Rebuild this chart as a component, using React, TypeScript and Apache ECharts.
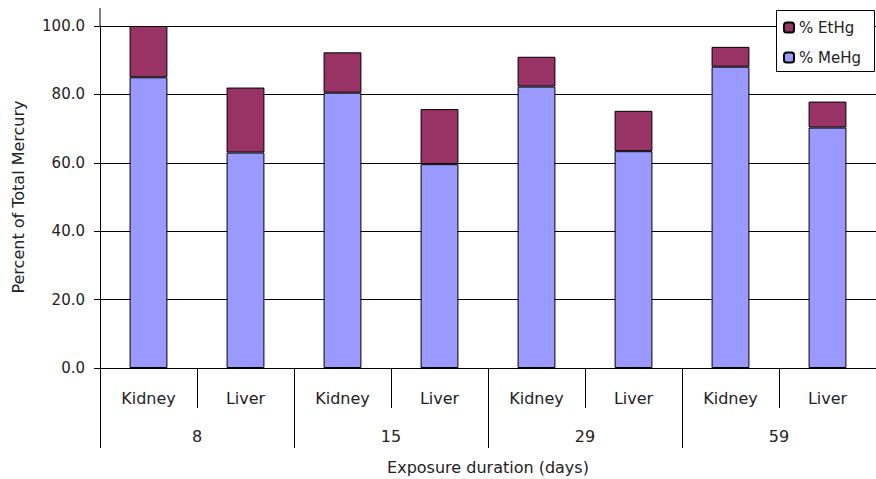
import React, { useEffect, useRef } from "react";
import * as echarts from "echarts";

const categories = ["Kidney", "Liver", "Kidney", "Liver", "Kidney", "Liver", "Kidney", "Liver"];
const groups = ["8", "15", "29", "59"];
const meHg = [85.0, 63.0, 80.5, 59.6, 82.3, 63.4, 88.1, 70.3];
const etHg = [15.0, 19.0, 11.8, 16.1, 8.7, 11.8, 5.8, 7.6];
const yTicks = [0, 20, 40, 60, 80, 100];

const FONT = "DejaVu Sans";

export default function App() {
  const ref = useRef<HTMLDivElement>(null);
  useEffect(() => {
    if (!ref.current) return;
    const chart = echarts.init(ref.current, null, { renderer: "svg" });
    chart.setOption({
      animation: false,
      backgroundColor: "#ffffff",
      textStyle: { fontFamily: FONT },
      grid: {
        left: 100,
        right: 0,
        top: 26,
        bottom: 111,
        containLabel: false,
        outerBoundsMode: "none",
      },
      legend: {
        orient: "vertical",
        left: 776,
        top: 10,
        z: 20,
        data: ["% EtHg", "% MeHg"],
        itemWidth: 10,
        itemHeight: 10,
        itemGap: 15,
        padding: [10, 0, 7, 7],
        borderWidth: 0,
        textStyle: { fontFamily: FONT, fontSize: 15, color: "#222" },
      },
      graphic: [
        {
          type: "line",
          shape: { x1: 100, y1: 8, x2: 100, y2: 26 },
          style: { stroke: "#000", lineWidth: 1 },
        },
        {
          type: "rect",
          z: 10,
          shape: { x: 776.5, y: 10.5, width: 98, height: 61 },
          style: { fill: "#fff", stroke: "#000", lineWidth: 1 },
        },
      ],
      xAxis: [
        {
          type: "category",
          data: categories,
          position: "bottom",
          offset: 0,
          axisLine: { lineStyle: { color: "#000", width: 1 } },
          axisTick: { show: true, length: 40, lineStyle: { color: "#000" } },
          axisLabel: { margin: 22, fontSize: 16, color: "#222", fontFamily: FONT },
        },
        {
          type: "category",
          data: groups,
          position: "bottom",
          offset: 0,
          axisLine: { show: false },
          axisTick: { show: true, length: 80, lineStyle: { color: "#000" } },
          axisLabel: { margin: 60, fontSize: 16, color: "#222", fontFamily: FONT },
          name: "Exposure duration (days)",
          nameLocation: "middle",
          nameGap: 91,
          nameTextStyle: { fontSize: 16, color: "#222", fontFamily: FONT },
        },
      ],
      yAxis: {
        type: "value",
        min: yTicks[0],
        max: yTicks[yTicks.length - 1],
        interval: 20,
        name: "Percent of Total Mercury",
        nameLocation: "middle",
        nameGap: 74,
        nameTextStyle: { fontSize: 16, color: "#222", fontFamily: FONT },
        axisLine: { show: true, lineStyle: { color: "#000" } },
        axisTick: { show: true, length: 6, lineStyle: { color: "#000" } },
        axisLabel: {
          margin: 15,
          fontSize: 15,
          color: "#222",
          fontFamily: FONT,
          formatter: (v: number) => v.toFixed(1),
        },
        splitLine: { show: true, lineStyle: { color: "#000", width: 1 } },
      },
      series: [
        {
          name: "% MeHg",
          type: "bar",
          stack: "total",
          xAxisIndex: 0,
          barWidth: "39%",
          data: meHg,
          itemStyle: { color: "#9999FF", borderColor: "#000", borderWidth: 1 },
        },
        {
          name: "% EtHg",
          type: "bar",
          stack: "total",
          xAxisIndex: 0,
          barWidth: "39%",
          data: etHg,
          itemStyle: { color: "#993366", borderColor: "#000", borderWidth: 1 },
        },
      ],
    });
    return () => chart.dispose();
  }, []);
  return (
    <div
      ref={ref}
      style={{ position: "absolute", left: 0, top: 0, width: 876, height: 479 }}
    />
  );
}
